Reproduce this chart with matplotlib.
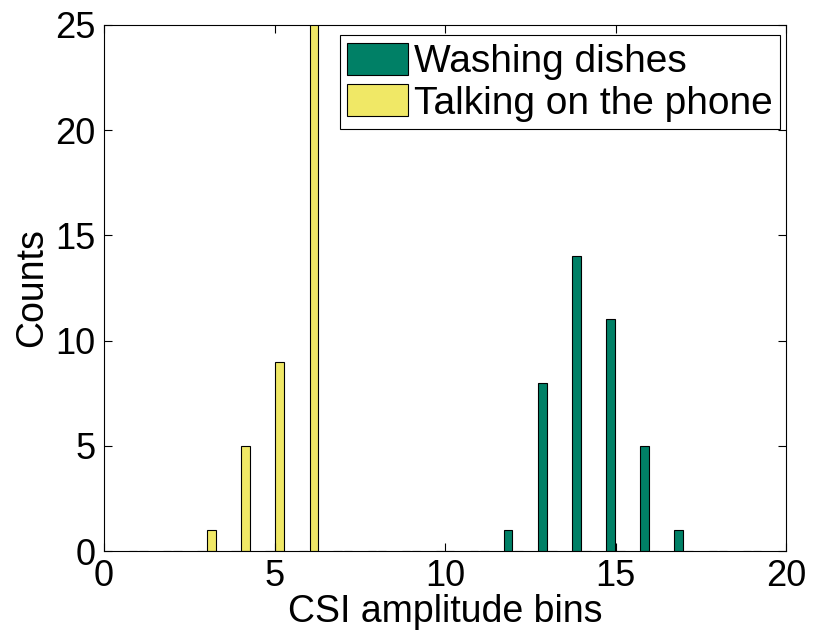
import matplotlib
matplotlib.use("Agg")
import matplotlib.pyplot as plt
import numpy as np

bins = list(range(1, 20))
washing = [0,0,0,0,0,0,0,0,0,0,0,1,8,14,11,5,1,0,0]
talking = [0,0,1,5,9,28,0,0,0,0,0,0,0,0,0,0,0,0,0]

plt.rcParams['font.family'] = ['Liberation Sans', 'DejaVu Sans']
fig = plt.figure(figsize=(8.13, 6.37), dpi=100)
ax = fig.add_axes([0.128, 0.135, 0.839, 0.826])

x = np.array(bins, dtype=float)
w = 0.25
ax.bar(x - 0.15, washing, width=w, color='#008066', edgecolor='black', linewidth=0.8, label='Washing dishes')
ax.bar(x + 0.15, talking, width=w, color='#f0e866', edgecolor='black', linewidth=0.8, label='Talking on the phone')

ax.set_xlim(0, 20)
ax.set_ylim(0, 25)
ax.set_xticks([0, 5, 10, 15, 20])
ax.set_yticks([0, 5, 10, 15, 20, 25])
ax.tick_params(direction='in', top=True, right=True, labelsize=26, length=6, width=0.8, pad=6)
ax.set_xlabel('CSI amplitude bins', fontsize=27, labelpad=0)
ax.set_ylabel('Counts', fontsize=27, labelpad=4)
for s in ax.spines.values():
    s.set_linewidth(0.8)

leg = ax.legend(loc='upper right', fontsize=28, fancybox=False, framealpha=1,
                edgecolor='black', handlelength=1.57, handleheight=0.9,
                handletextpad=0.13, borderpad=0.2, labelspacing=0.1,
                borderaxespad=0, bbox_to_anchor=(0.991, 0.981))
leg.get_frame().set_linewidth(0.8)

fig.savefig('out.png', dpi=100)
